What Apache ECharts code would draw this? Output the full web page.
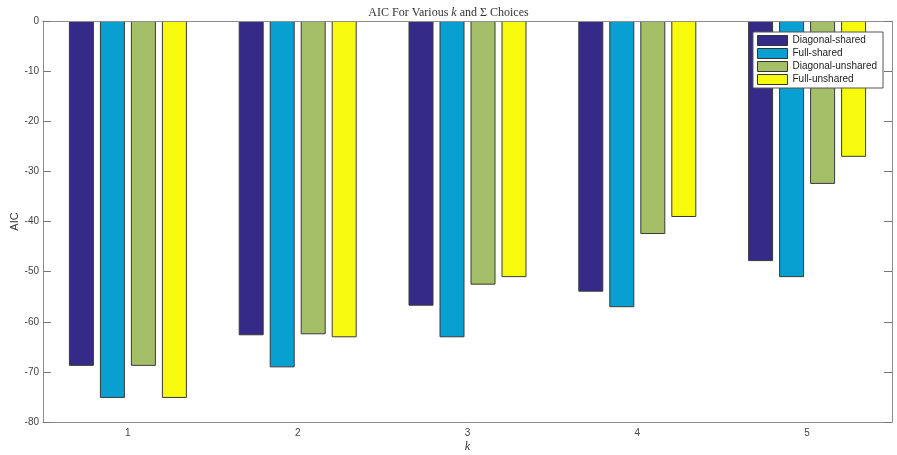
<!DOCTYPE html>
<html>
<head>
<meta charset="utf-8">
<script src="https://cdn.jsdelivr.net/npm/echarts@6/dist/echarts.min.js"></script>
<style>
  html, body { margin: 0; padding: 0; background: #fff; }
  #chart { width: 897px; height: 455px; }
</style>
</head>
<body>
<div id="chart"></div>
<script>
  var categories = ['1', '2', '3', '4', '5'];
  var seriesNames = ['Diagonal-shared', 'Full-shared', 'Diagonal-unshared', 'Full-unshared'];
  var diagonalShared = [-68.8, -62.7, -56.8, -54.0, -47.9];
  var fullShared = [-75.2, -69.1, -63.1, -57.1, -51.1];
  var diagonalUnshared = [-68.8, -62.5, -52.6, -42.5, -32.5];
  var fullUnshared = [-75.2, -63.1, -51.1, -39.1, -27.1];
  var yTicks = [0, -10, -20, -30, -40, -50, -60, -70, -80];

  var colors = ['#352a87', '#089fd1', '#a4bf68', '#f8fa0d'];
  var seriesData = [diagonalShared, fullShared, diagonalUnshared, fullUnshared];

  var chart = echarts.init(document.getElementById('chart'));

  var frameLine = { onZero: false, lineStyle: { color: '#8c8c8c', width: 1 } };
  var tickStyle = { color: '#777', width: 1 };

  chart.setOption({
    animation: false,
    title: {
      text: 'AIC For Various {i|k} and \u03a3 Choices',
      left: 'center',
      top: 2,
      textStyle: {
        fontFamily: 'Liberation Serif',
        fontSize: 12,
        fontWeight: 'normal',
        color: '#333',
        rich: { i: { fontFamily: 'Liberation Serif', fontStyle: 'italic', fontSize: 12, color: '#333' } }
      }
    },
    legend: {
      data: seriesNames,
      icon: 'rect',
      orient: 'vertical',
      right: 14,
      top: 32,
      itemWidth: 30,
      itemHeight: 10,
      itemGap: 2,
      padding: [3, 6, 3, 4],
      backgroundColor: '#fff',
      borderColor: '#555',
      borderWidth: 1,
      borderRadius: 0,
      textStyle: { fontFamily: 'Liberation Sans', fontSize: 10, color: '#222' },
      itemStyle: { borderColor: '#333', borderWidth: 1 }
    },
    grid: { left: 43, right: 5, top: 21, bottom: 33, outerBoundsMode: 'none' },
    xAxis: [{
      type: 'category',
      data: categories,
      position: 'bottom',
      z: 5,
      name: 'k',
      nameLocation: 'middle',
      nameGap: 19,
      nameMoveOverlap: false,
      nameTextStyle: { fontFamily: 'Liberation Serif', fontStyle: 'italic', fontSize: 12, color: '#333' },
      axisLine: frameLine,
      axisTick: { inside: true, alignWithLabel: true, length: 8, lineStyle: tickStyle },
      axisLabel: { fontFamily: 'Liberation Sans', fontSize: 10, color: '#444', margin: 6 },
      splitLine: { show: false }
    }, {
      type: 'category',
      data: categories,
      position: 'top',
      z: 5,
      axisLine: frameLine,
      axisTick: { inside: true, alignWithLabel: true, length: 8, lineStyle: tickStyle },
      axisLabel: { show: false },
      splitLine: { show: false }
    }],
    yAxis: [{
      type: 'value',
      min: -80,
      max: 0,
      interval: 10,
      position: 'left',
      z: 5,
      name: 'AIC',
      nameLocation: 'middle',
      nameGap: 23,
      nameMoveOverlap: false,
      nameTextStyle: { fontFamily: 'Liberation Sans', fontSize: 11, color: '#333' },
      axisLine: { show: true, onZero: false, lineStyle: { color: '#8c8c8c', width: 1 } },
      axisTick: { show: true, inside: true, length: 8, lineStyle: tickStyle },
      axisLabel: {
        fontFamily: 'Liberation Sans', fontSize: 10, color: '#444', margin: 4,
        formatter: function (v) { return yTicks.indexOf(v) >= 0 ? String(v) : ''; }
      },
      splitLine: { show: false }
    }, {
      type: 'value',
      min: -80,
      max: 0,
      interval: 10,
      position: 'right',
      z: 5,
      axisLine: { show: true, onZero: false, lineStyle: { color: '#8c8c8c', width: 1 } },
      axisTick: { show: true, inside: true, length: 8, lineStyle: tickStyle },
      axisLabel: { show: false },
      splitLine: { show: false }
    }],
    series: seriesNames.map(function (name, i) {
      return {
        name: name,
        type: 'bar',
        xAxisIndex: 0,
        yAxisIndex: 0,
        data: seriesData[i],
        barWidth: 25,
        barGap: '24%',
        itemStyle: { color: colors[i], borderColor: '#3a3a3a', borderWidth: 1 }
      };
    })
  });
</script>
</body>
</html>
